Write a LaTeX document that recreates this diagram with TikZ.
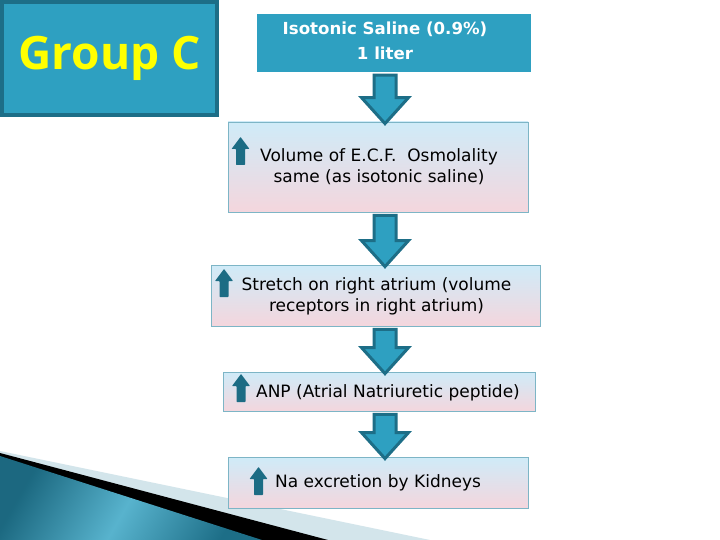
\documentclass[tikz,border=0pt]{standalone}
\usepackage{fontspec}
\setmainfont{DejaVu Sans}
\newfontfamily\grpfont{Open Sans}
\usetikzlibrary{calc}
\definecolor{seablue}{HTML}{2EA0C1}
\definecolor{seadk}{HTML}{1D6E87}
\definecolor{arrowdk}{HTML}{1C6C84}
\definecolor{boxline}{HTML}{7DB5C6}
\definecolor{boxtop}{HTML}{CFEBF8}
\definecolor{boxbot}{HTML}{F4D6DD}
\definecolor{grpyellow}{HTML}{FFFF00}
\definecolor{stripe}{HTML}{D3E5EB}

\tikzset{
  flowbox/.style={draw=boxline,line width=.8pt,top color=boxtop,bottom color=boxbot,
    inner sep=0pt},
  boxtxt/.style={align=center,inner sep=0pt,font=\fontsize{17}{21}\selectfont},
  flowarr/.style={fill=seablue,draw=seadk,line width=3pt,line join=miter},
  uparr/.pic={\fill[arrowdk,rounded corners=.6pt] (-4.5,0) -- (-4.5,-16) -- (-9,-16)
    -- (0,-28) -- (9,-16) -- (4.5,-16) -- (4.5,0) -- cycle;}
}

\newcommand\flowarrow[2]{%
  \draw[flowarr] let \p1=(#1.south -| axis), \p2=(#2.north -| axis) in
    (\x1-11pt,\y1-3pt) -- (\x1+11pt,\y1-3pt) -- (\x1+11pt,\y2+24pt)
    -- (\x1+23.5pt,\y2+24pt) -- (\x1,\y2-2pt) -- (\x1-23.5pt,\y2+24pt)
    -- (\x1-11pt,\y2+24pt) -- cycle;}

\begin{document}
\begin{tikzpicture}[x=1pt,y=-1pt]
  \useasboundingbox (0,0) rectangle (720,540);
  \fill[white] (0,0) rectangle (720,540);
  \coordinate (axis) at (385,0);

  % corner decoration
  \fill[stripe] (0,451) -- (430,540) -- (0,540) -- cycle;
  \fill[black] (0,453) -- (328,540) -- (0,540) -- cycle;
  \shade[left color=seadk!95!black,right color=seadk,middle color=seablue!80!white,shading angle=60]
    (0,456) -- (262,540) -- (0,540) -- cycle;

  % title box
  \node[fill=seablue,draw=seadk,line width=4pt,minimum width=215pt,minimum height=113pt,
    text=grpyellow,font=\grpfont\bfseries\fontsize{46}{50}\selectfont] (grp) at (109.5,58.5) {Group C};

  % flow boxes
  \node[fill=seablue,minimum width=274pt,minimum height=58pt] (b1) at (394,43) {};
  \node[flowbox,minimum width=300pt,minimum height=90pt] (b2) at (378,167) {};
  \node[flowbox,minimum width=329pt,minimum height=61pt] (b3) at (375.5,295.5) {};
  \node[flowbox,minimum width=312pt,minimum height=39pt] (b4) at (379,391.5) {};
  \node[flowbox,minimum width=300pt,minimum height=51pt] (b5) at (378,482.5) {};

  \node[boxtxt,text=white,font=\bfseries\fontsize{16.6}{25}\selectfont] (t1) at ($(b1)+(-9,-2.5)$)
    {Isotonic Saline (0.9\%)\\1 liter};
  \node[boxtxt] (t2) at ($(b2)+(1,-0.5)$) {Volume of E.C.F.\ \ Osmolality\\same (as isotonic saline)};
  \node[boxtxt] (t3) at ($(b3)+(1,0.5)$) {Stretch on right atrium (volume\\receptors in right atrium)};
  \node[boxtxt] (t4) at ($(b4)+(9,1.5)$) {ANP (Atrial Natriuretic peptide)};
  \node[boxtxt] (t5) at ($(b5)+(0,0.5)$) {Na excretion by Kidneys};

  % small up arrows
  \pic at (240.5,165) {uparr};
  \pic at (224,297) {uparr};
  \pic at (241,402) {uparr};
  \pic at (258.5,495) {uparr};

  % block arrows
  \flowarrow{b1}{b2}
  \flowarrow{b2}{b3}
  \flowarrow{b3}{b4}
  \flowarrow{b4}{b5}
\end{tikzpicture}
\end{document}
